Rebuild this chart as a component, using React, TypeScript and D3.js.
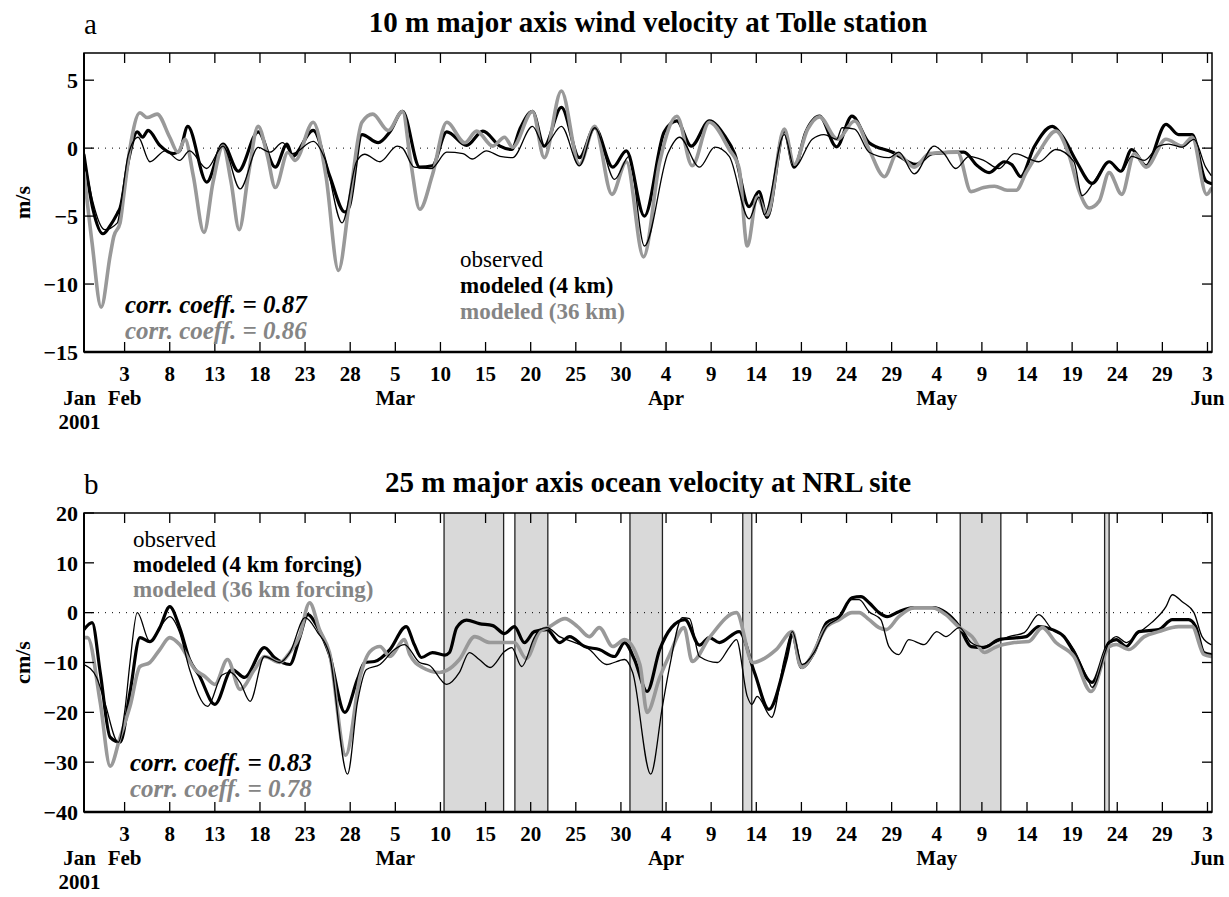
import React from 'react';
import * as d3 from 'd3';

// day-of-year 2001 (Jan 1 = 1), value pairs
const windObs: [number, number][] = [[29.5,-0.6],[30.5,-4],[31.8,-6.0],[33.2,-5.5],[33.5,-4.5],[34.4,-0.5],[35.5,0.8],[36.8,-1.0],[38.5,-0.2],[40.1,-0.9],[41.2,-0.2],[43.1,-1.5],[44.9,0.15],[46.8,-3.0],[48.8,0.05],[50.1,-0.3],[51.5,0.4],[52.6,-0.4],[54.9,0.5],[56.2,-0.8],[58.1,-5.5],[59.7,-1.0],[60.6,-0.45],[62.3,-1.0],[64.2,0.15],[64.8,0.0],[66.1,-1.4],[68.0,-1.5],[69.7,-0.3],[71.5,-0.4],[72.5,-0.8],[74.1,-0.2],[75.6,-0.6],[77.0,-0.7],[79.2,1.6],[80.5,0.15],[82.4,1.6],[84.4,-1.3],[86.1,1.5],[88.3,-2.3],[89.9,-0.6],[91.6,-7.2],[94.2,-0.4],[95.5,0.8],[97.7,-1.4],[99.4,0.07],[101.0,-0.6],[103.2,-5.2],[104.3,-3.6],[104.9,-4.9],[107.1,1.0],[108.2,-1.4],[110.2,0.65],[111.5,1.0],[112.9,0.65],[113.5,1.5],[114.9,1.4],[116.5,-0.3],[118.7,-0.7],[119.8,-0.3],[121.5,-1.9],[123.7,0.15],[124.8,-0.4],[126.1,-1.5],[127.6,-0.6],[129.2,-0.9],[130.9,-1.5],[132.6,-0.4],[135.3,-1.0],[137.2,-0.1],[139.2,-1.0],[140.1,-3.5],[141.4,-2.5],[143.1,-1.0],[144.5,-1.7],[145.6,-0.6],[147.0,-0.9],[148.6,0.15],[149.7,0.3],[151.2,0.07],[152.5,0.65],[153.8,-1.4],[154.4,-2.0]];

const wind4km: [number, number][] = [[29.5,-0.5],[30.5,-4.5],[31.6,-6.3],[32.4,-5.7],[33.2,-4.8],[33.5,-4.4],[34.4,-1.0],[35.4,1.2],[36.0,0.8],[36.6,1.3],[37.9,0.2],[39.4,-0.4],[40.1,-0.2],[41.0,1.6],[43.1,-2.5],[44.9,0.3],[46.6,-1.7],[48.8,1.2],[50.7,-1.4],[52.0,0.3],[52.6,-0.6],[54.9,1.3],[56.7,-2.0],[58.4,-4.7],[58.9,-4.3],[60.3,1.0],[62.1,0.4],[63.4,1.2],[64.8,2.7],[66.7,-1.4],[68.1,-1.3],[69.7,1.2],[71.9,0.2],[73.7,1.25],[75.6,0.15],[76.9,-0.1],[77.8,1.4],[79.2,2.7],[80.5,0.15],[82.4,3.0],[84.4,-0.7],[86.1,1.5],[88.1,-1.4],[89.6,-0.2],[91.6,-5.0],[93.8,1.2],[95.2,2.0],[96.8,0.15],[98.8,2.0],[100.5,0.9],[101.6,-0.4],[103.2,-4.3],[104.3,-3.2],[105.2,-5.1],[107.1,1.25],[108.2,-1.4],[109.5,1.2],[111.0,2.35],[112.9,0.1],[114.6,2.35],[116.5,0.4],[119.1,-0.3],[121.7,-1.2],[123.5,-0.4],[127.0,-0.3],[128.5,-1.3],[129.8,-1.8],[131.5,-1.0],[132.3,-1.2],[133.3,-2.1],[134.8,0.1],[136.8,1.6],[137.9,0.9],[139.5,-1.0],[141.2,-2.6],[143.1,-1.0],[144.4,-1.7],[145.6,-0.1],[147.2,-1.3],[149.4,1.75],[150.8,1.0],[152.3,1.0],[153.8,-2.4],[154.4,-2.6]];

const wind36km: [number, number][] = [[29.5,-1.8],[30.4,-7.0],[31.4,-11.7],[32.4,-7.9],[32.8,-6.5],[33.5,-5.5],[33.9,-3.5],[34.6,0.0],[35.7,2.6],[36.5,2.25],[37.6,2.5],[39.0,0.8],[39.9,-0.3],[40.7,0.65],[41.6,-2.0],[42.8,-6.2],[43.8,-2.5],[44.9,0.15],[45.8,-2.5],[46.7,-6.0],[47.7,-2.0],[48.8,1.6],[49.8,-0.5],[50.7,-2.9],[52.1,-0.3],[52.9,-0.9],[54.9,1.9],[56.3,-2.0],[57.7,-9.0],[58.9,-4.0],[60.3,1.9],[61.5,2.5],[63.2,1.3],[64.8,2.7],[65.7,-1.0],[66.7,-4.5],[68.1,-2.0],[69.7,1.9],[71.7,0.4],[73.0,1.25],[74.8,0.15],[76.1,0.8],[77.0,0.07],[79.2,2.7],[80.5,-0.7],[82.4,4.2],[84.4,-1.2],[86.1,1.6],[88.0,-3.4],[89.6,-1.0],[91.5,-8.0],[93.3,-1.0],[95.2,2.35],[96.9,-1.3],[98.8,1.9],[101.0,-0.1],[102.1,-1.5],[103.0,-7.2],[104.1,-3.6],[105.2,-4.9],[107.1,1.4],[108.2,-1.2],[109.7,1.4],[111.0,2.3],[113.0,0.65],[114.9,2.0],[116.5,-0.1],[118.2,-2.1],[119.6,-0.4],[121.5,-1.4],[123.2,-0.4],[126.3,-0.3],[127.8,-3.2],[129.2,-2.9],[130.4,-2.8],[131.8,-3.1],[132.8,-3.1],[133.9,-1.8],[135.3,-0.3],[137.2,1.25],[138.7,-0.6],[139.8,-3.2],[140.9,-4.4],[142.0,-3.9],[143.1,-1.8],[144.5,-3.4],[145.9,-0.4],[147.2,-1.4],[149.4,0.65],[151.2,0.15],[152.3,0.8],[153.9,-3.4],[154.4,-3.0]];

const oceanObs: [number, number][] = [[29.5,-10.4],[30.9,-13],[31.8,-18],[33.3,-26],[34.0,-20],[34.6,-10],[35.4,0],[36.8,-5.8],[37.9,-3],[39.0,-0.8],[40.1,-4],[41.2,-11.4],[43.2,-18.8],[44.8,-12.5],[45.7,-12],[46.8,-14],[47.9,-17.8],[49.5,-8.8],[51.2,-10],[52.3,-8],[54.0,-1],[55.4,-4],[56.7,-8.4],[58.7,-32.4],[59.8,-18],[60.8,-11.4],[62.3,-10.4],[63.9,-7.4],[65.0,-6.4],[66.7,-10],[67.8,-10.6],[69.7,-14.4],[71.1,-12],[72.2,-8],[73.3,-9.4],[74.5,-11],[76.1,-7.8],[76.9,-7],[78.0,-10.8],[79.4,-5],[80.0,-3.4],[80.8,-3],[82.2,-4.8],[83.9,-6],[85.5,-7.4],[87.4,-10.4],[89.4,-9.4],[90.3,-12],[92.3,-32.4],[93.6,-18.8],[94.4,-10.8],[95.8,-1],[96.6,-1.2],[97.7,-8.8],[99.7,-10],[101.0,-7],[101.8,-5.4],[103.0,-16.8],[103.5,-18.4],[104.1,-16.8],[105.7,-21],[107.1,-9.4],[108.0,-3.8],[109.1,-10.4],[110.4,-8],[111.8,-2.8],[113.2,-1],[114.6,2.6],[115.4,2.6],[116.5,0.2],[117.8,-1.4],[118.7,-6.8],[119.8,-8.4],[120.9,-5.4],[122.6,-6.4],[124.0,-3.8],[125.0,-4.8],[126.5,-3],[127.8,-6],[129.0,-6.8],[130.4,-6],[132.0,-4.8],[133.7,-4],[135.3,-0.4],[136.8,-3.4],[138.1,-4.8],[139.2,-7.4],[140.9,-14],[141.2,-15],[143.1,-6],[143.9,-4.8],[145.0,-6],[146.4,-4],[147.8,-2],[149.4,1.2],[150.1,3.6],[151.2,2.2],[152.5,0],[153.4,-4.8],[154.4,-6.4]];

const ocean4km: [number, number][] = [[29.5,-3.4],[30.4,-2.0],[31.3,-12],[32.4,-25],[33.5,-26],[34.6,-16],[35.7,-5],[36.8,-5.8],[37.9,-3],[39.0,1.2],[40.1,-3],[41.2,-9.4],[42.3,-12.7],[44.0,-18.4],[45.9,-11.4],[47.3,-13],[49.5,-7],[50.6,-9],[52.3,-10.4],[53.4,-5],[54.3,-0.4],[55.4,-3],[56.7,-8.4],[58.4,-20],[59.8,-13.4],[60.6,-10],[61.7,-9.8],[63.4,-7.4],[65.2,-2.8],[66.1,-6.4],[66.9,-9],[68.1,-8],[69.5,-8.5],[70.0,-8],[70.8,-3],[71.9,-1.5],[73.3,-2.2],[74.8,-2.6],[76.1,-4.2],[77.2,-2.8],[78.3,-6],[79.4,-3.8],[80.8,-3.4],[82.2,-6],[83.3,-4.8],[85.0,-6.8],[86.6,-7.4],[88.3,-8.8],[89.4,-6],[90.5,-9.4],[91.9,-15.8],[93.3,-7.4],[94.6,-3],[96.1,-1.4],[97.7,-6.5],[98.8,-5],[99.9,-6],[102.1,-3.8],[103.8,-12],[105.4,-19.4],[107.3,-9.4],[108.0,-4.5],[109.0,-11],[110.4,-8],[111.8,-2],[113.2,-0.8],[114.6,3.0],[115.6,3.2],[116.5,2],[117.6,0],[118.5,-0.8],[119.8,0.2],[121.5,1.0],[123.5,1.0],[125.0,0],[126.5,-2.8],[127.8,-6.8],[129.2,-7],[130.9,-5.4],[133.9,-4.8],[135.3,-2.8],[136.8,-3.4],[138.1,-4.8],[139.2,-8],[141.2,-14],[143.1,-6],[143.9,-5.4],[145.0,-6.8],[146.4,-3.8],[148.6,-3.4],[150.1,-1.4],[151.9,-1.4],[152.7,-2.8],[153.6,-8],[154.4,-8.4]];

const ocean36km: [number, number][] = [[29.5,-5],[29.9,-5],[31.3,-18],[32.4,-30.8],[33.5,-25],[34.6,-18.8],[35.7,-10.8],[36.8,-10],[37.9,-7.4],[39.0,-5],[40.1,-6.4],[41.8,-11.4],[42.9,-12.8],[44.0,-14.4],[45.4,-9.4],[46.8,-15.4],[48.4,-11.4],[49.5,-8.8],[51.2,-10],[52.3,-8],[53.4,-4.6],[54.5,2],[55.6,-3.4],[56.7,-8],[58.5,-28.6],[60.1,-12.8],[61.2,-7.8],[62.3,-6.8],[63.4,-8.8],[65.0,-5.4],[65.6,-8.4],[67.0,-11],[68.9,-12],[69.7,-11.6],[71.1,-9.4],[72.8,-4.8],[74.5,-6],[76.1,-6],[77.2,-6],[78.5,-9.2],[80.0,-3.8],[81.1,-2.8],[82.8,-1.2],[84.2,-2.8],[85.5,-4.8],[86.6,-3],[88.1,-6.8],[89.4,-5.4],[91.1,-10.4],[91.9,-20],[93.3,-13],[94.4,-8.4],[96.0,-3],[96.9,-9.8],[98.8,-5],[101.8,0],[103.6,-10],[106.2,-7.4],[108.0,-3.8],[108.8,-10.4],[109.1,-11],[109.9,-9.4],[111.8,-2.8],[113.2,-1.4],[114.6,0],[115.4,0],[116.5,-1.4],[117.6,-3],[118.4,-3.4],[119.8,-0.8],[121.5,1.0],[123.5,1.0],[125.0,-0.4],[126.5,-3],[127.9,-4.8],[129.3,-8],[130.4,-7],[132.6,-6],[134.2,-5.8],[135.7,-3],[137.2,-6],[139.2,-8.8],[141.1,-15.8],[143.1,-6.8],[143.9,-6.4],[145.3,-7.4],[147.0,-4.8],[148.6,-3.8],[150.8,-2.8],[152.3,-2.8],[153.6,-8.4],[154.4,-8.8]];

// shaded periods in panel b (start day, end day)
const shadedPeriods: [number, number][] = [[69.4, 76.0], [77.25, 80.9], [90.0, 93.6], [102.5, 103.5], [126.6, 131.1], [142.6, 143.1]];

const yTicksWind = [5, 0, -5, -10, -15];
const yTicksOcean = [20, 10, 0, -10, -20, -30, -40];
const xTickDays = d3.range(34, 155, 5);

const legendWind = ['observed', 'modeled (4 km)', 'modeled (36 km)'];
const legendOcean = ['observed', 'modeled (4 km forcing)', 'modeled (36 km forcing)'];
const corrWind = ['corr. coeff. = 0.87', 'corr. coeff. = 0.86'];
const corrOcean = ['corr. coeff. = 0.83', 'corr. coeff. = 0.78'];

const FONT = '"Liberation Serif", "Times New Roman", serif';
const LEFT = 84;
const RIGHT = 1212;
const LINE_GRAY = '#999999';
const TEXT_GRAY = '#858585';

const x = d3.scaleLinear().domain([29.5, 154.5]).range([LEFT, RIGHT]);
const fmtDay = d3.timeFormat('%-d');
const fmtMon = d3.timeFormat('%b');
const fmtY = d3.format('d');
const dayToDate = (t: number) => new Date(2001, 0, Math.floor(t));

type PanelProps = {
  id: string;
  top: number;
  bottom: number;
  yDomain: [number, number];
  yTicks: number[];
  letter: string;
  title: string;
  yLabel: string;
  obs: [number, number][];
  m4: [number, number][];
  m36: [number, number][];
  legend: string[];
  legendX: number;
  legendY: number;
  legendStep: number;
  corr: string[];
  corrX: number;
  corrY: number;
  shades?: [number, number][];
};

const Panel = (p: PanelProps) => {
  const y = d3.scaleLinear().domain(p.yDomain).range([p.bottom, p.top]);
  const line = d3.line<[number, number]>()
    .x(d => x(d[0]))
    .y(d => y(d[1]))
    .curve(d3.curveMonotoneX);

  // month label under the first tick of each month, plus the axis start month
  let prevMon = fmtMon(dayToDate(29.5));
  const monthLabels: { t: number; label: string }[] = [{ t: 29, label: prevMon }];
  xTickDays.forEach(t => {
    const m = fmtMon(dayToDate(t));
    if (m !== prevMon) {
      monthLabels.push({ t, label: m });
      prevMon = m;
    }
  });

  const tickLen = 10;

  return (
    <g>
      <defs>
        <clipPath id={`clip-${p.id}`}>
          <rect x={LEFT} y={p.top} width={RIGHT - LEFT} height={p.bottom - p.top} />
        </clipPath>
      </defs>

      <text x={LEFT} y={p.top - 19} fontFamily={FONT} fontSize={29}>{p.letter}</text>
      <text x={(LEFT + RIGHT) / 2} y={p.top - 21} fontFamily={FONT} fontSize={29}
        fontWeight="bold" textAnchor="middle">{p.title}</text>

      {p.shades && p.shades.map(([a, b], i) => (
        <g key={i}>
          <rect x={x(a)} y={p.top} width={x(b) - x(a)} height={p.bottom - p.top} fill="#d9d9d9" />
          <line x1={x(a)} x2={x(a)} y1={p.top} y2={p.bottom} stroke="#222" strokeWidth={1.3} />
          <line x1={x(b)} x2={x(b)} y1={p.top} y2={p.bottom} stroke="#222" strokeWidth={1.3} />
        </g>
      ))}

      <line x1={LEFT} x2={RIGHT} y1={y(0)} y2={y(0)} stroke="#000" strokeWidth={1}
        strokeDasharray="1,6" />

      <g clipPath={`url(#clip-${p.id})`} fill="none" strokeLinejoin="round" strokeLinecap="round">
        <path d={line(p.m4) || ''} stroke="#000" strokeWidth={3.2} />
        <path d={line(p.m36) || ''} stroke={LINE_GRAY} strokeWidth={3.6} />
        <path d={line(p.obs) || ''} stroke="#000" strokeWidth={1.3} />
      </g>

      {/* frame */}
      <rect x={LEFT} y={p.top} width={RIGHT - LEFT} height={p.bottom - p.top}
        fill="none" stroke="#000" strokeWidth={1.5} />
      <line x1={LEFT} x2={RIGHT} y1={p.bottom} y2={p.bottom} stroke="#000" strokeWidth={2.5} />
      <line x1={LEFT} x2={LEFT} y1={p.top} y2={p.bottom} stroke="#000" strokeWidth={2} />

      {xTickDays.map(t => (
        <g key={t}>
          <line x1={x(t)} x2={x(t)} y1={p.bottom} y2={p.bottom - tickLen} stroke="#000" strokeWidth={1.3} />
          <line x1={x(t)} x2={x(t)} y1={p.top} y2={p.top + tickLen} stroke="#000" strokeWidth={1.3} />
          <text x={x(t)} y={p.bottom + 29} textAnchor="middle" fontFamily={FONT}
            fontSize={21} fontWeight="bold">{fmtDay(dayToDate(t))}</text>
        </g>
      ))}
      {monthLabels.map(m => (
        <text key={m.label} x={x(m.t)} y={p.bottom + 53} textAnchor="middle" fontFamily={FONT}
          fontSize={21} fontWeight="bold">{m.label}</text>
      ))}
      <text x={x(29)} y={p.bottom + 77} textAnchor="middle" fontFamily={FONT}
        fontSize={21} fontWeight="bold">2001</text>

      {p.yTicks.map(v => (
        <g key={v}>
          <line x1={LEFT} x2={LEFT + tickLen} y1={y(v)} y2={y(v)} stroke="#000" strokeWidth={1.3} />
          <line x1={RIGHT} x2={RIGHT - tickLen} y1={y(v)} y2={y(v)} stroke="#000" strokeWidth={1.3} />
          <text x={LEFT - 6} y={y(v)} dy="0.35em" textAnchor="end" fontFamily={FONT}
            fontSize={22} fontWeight="bold">{fmtY(v)}</text>
        </g>
      ))}

      <text transform={`translate(30,${(p.top + p.bottom) / 2}) rotate(-90)`} textAnchor="middle"
        fontFamily={FONT} fontSize={22} fontWeight="bold">{p.yLabel}</text>

      {p.legend.map((s, i) => (
        <text key={s} x={p.legendX} y={p.legendY + i * p.legendStep} fontFamily={FONT} fontSize={23}
          fontWeight={i === 0 ? 'normal' : 'bold'} fill={i === 2 ? TEXT_GRAY : '#000'}>{s}</text>
      ))}
      {p.corr.map((s, i) => (
        <text key={s} x={p.corrX} y={p.corrY + i * 26} fontFamily={FONT} fontSize={25}
          fontWeight="bold" fontStyle="italic" fill={i === 1 ? TEXT_GRAY : '#000'}>{s}</text>
      ))}
    </g>
  );
};

export default function App() {
  return (
    <div style={{ position: 'absolute', left: 0, top: 0 }}>
      <svg width={1229} height={897} style={{ display: 'block', background: '#fff' }}>
        <Panel id="a" top={53} bottom={352} yDomain={[-15, 7]} yTicks={yTicksWind}
          letter="a" title="10 m major axis wind velocity at Tolle station" yLabel="m/s"
          obs={windObs} m4={wind4km} m36={wind36km}
          legend={legendWind} legendX={460} legendY={267} legendStep={26}
          corr={corrWind} corrX={125} corrY={313} />
        <Panel id="b" top={513} bottom={812} yDomain={[-40, 20]} yTicks={yTicksOcean}
          letter="b" title="25 m major axis ocean velocity at NRL site" yLabel="cm/s"
          obs={oceanObs} m4={ocean4km} m36={ocean36km}
          legend={legendOcean} legendX={133} legendY={547} legendStep={25}
          corr={corrOcean} corrX={130} corrY={771} shades={shadedPeriods} />
      </svg>
    </div>
  );
}
